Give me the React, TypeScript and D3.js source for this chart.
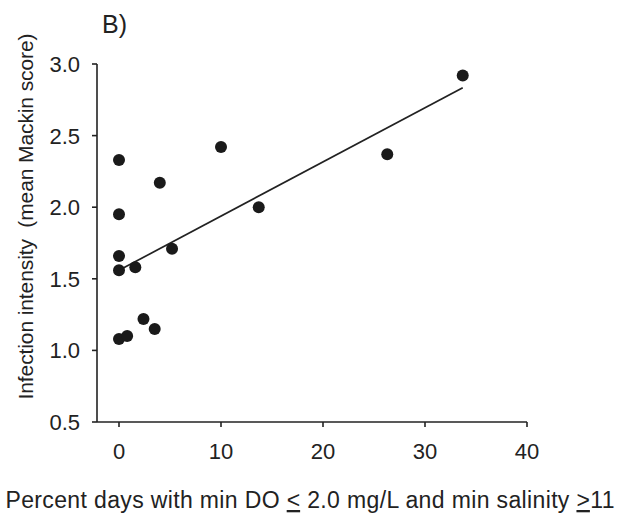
import React from "react";
import * as d3 from "d3";

const xValues = [0, 0, 0, 0, 0, 0.8, 1.6, 2.4, 3.5, 4.0, 5.2, 10.0, 13.7, 26.3, 33.7];
const yValues = [2.33, 1.95, 1.66, 1.56, 1.08, 1.10, 1.58, 1.22, 1.15, 2.17, 1.71, 2.42, 2.00, 2.37, 2.92];
const xTicks = [0, 10, 20, 30, 40];
const yTicks = [0.5, 1.0, 1.5, 2.0, 2.5, 3.0];
const panelLabel = "B)";
const yLabel = "Infection intensity  (mean Mackin score)";

const W = 620;
const H = 517;
const FONT = "'Liberation Sans', Arial, sans-serif";
const INK = "#222";

export default function App() {
  const x = d3.scaleLinear().domain([0, 40]).range([119, 527]);
  const y = d3.scaleLinear().domain([0.5, 3.0]).range([422, 64]);
  const axisX0 = 97;

  // least squares regression
  const mx = d3.mean(xValues)!;
  const my = d3.mean(yValues)!;
  const sxy = d3.sum(xValues.map((v, i) => (v - mx) * (yValues[i] - my)));
  const sxx = d3.sum(xValues.map((v) => (v - mx) * (v - mx)));
  const slope = sxy / sxx;
  const intercept = my - slope * mx;
  const [xmin, xmax] = d3.extent(xValues) as [number, number];
  const fit = [xmin, xmax].map((v) => [v, intercept + slope * v] as [number, number]);
  const line = d3
    .line<[number, number]>()
    .x((d) => x(d[0]))
    .y((d) => y(d[1]));

  return (
    <svg
      width={W}
      height={H}
      style={{ position: "absolute", left: 0, top: 0, background: "#fff" }}
      fontFamily={FONT}
    >
      <rect width={W} height={H} fill="#fff" />
      <text x={102} y={33} fontSize={25} fill={INK}>
        {panelLabel}
      </text>

      {/* axes */}
      <line x1={axisX0} x2={axisX0} y1={y(3.0)} y2={y(0.5)} stroke={INK} strokeWidth={1.6} />
      <line x1={axisX0} x2={x(40)} y1={y(0.5)} y2={y(0.5)} stroke={INK} strokeWidth={1.6} />
      {yTicks.map((t) => (
        <g key={"y" + t}>
          <line x1={axisX0 - 5} x2={axisX0} y1={y(t)} y2={y(t)} stroke={INK} strokeWidth={1.6} />
          <text x={80} y={y(t)} dy="0.36em" textAnchor="end" fontSize={22} fill={INK}>
            {t.toFixed(1)}
          </text>
        </g>
      ))}
      {xTicks.map((t) => (
        <g key={"x" + t}>
          <line x1={x(t)} x2={x(t)} y1={y(0.5)} y2={y(0.5) + 5} stroke={INK} strokeWidth={1.6} />
          <text x={x(t)} y={459} textAnchor="middle" fontSize={22} fill={INK}>
            {t}
          </text>
        </g>
      ))}

      {/* regression line */}
      <path d={line(fit) || ""} fill="none" stroke={INK} strokeWidth={1.7} />

      {/* points */}
      {xValues.map((v, i) => (
        <circle key={i} cx={x(v)} cy={y(yValues[i])} r={6} fill="#1a1a1a" />
      ))}

      {/* axis titles */}
      <text
        transform={`translate(33, 216.5) rotate(-90)`}
        textAnchor="middle"
        fontSize={21}
        textLength={366}
        lengthAdjust="spacing"
        fill={INK}
        style={{ whiteSpace: "pre" }}
      >
        {yLabel}
      </text>
      <text
        x={310}
        y={508}
        textAnchor="middle"
        fontSize={23}
        textLength={609}
        lengthAdjust="spacing"
        fill={INK}
        style={{ whiteSpace: "pre" }}
      >
        Percent days with min DO{" "}
        <tspan style={{ textDecoration: "underline" }}>{"<"}</tspan>
        {" 2.0 mg/L and min salinity "}
        <tspan style={{ textDecoration: "underline" }}>{">"}</tspan>
        11
      </text>
    </svg>
  );
}
